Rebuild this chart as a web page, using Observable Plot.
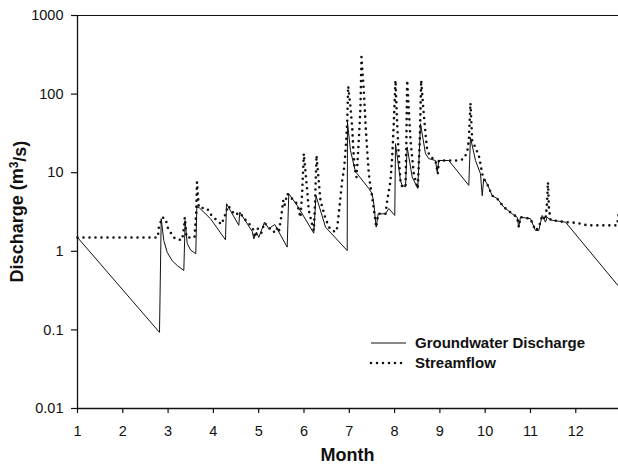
<!DOCTYPE html>
<html><head><meta charset="utf-8">
<script src="https://cdn.jsdelivr.net/npm/d3@7"></script>
<script src="https://cdn.jsdelivr.net/npm/@observablehq/plot@0.6"></script>
<style>
body{margin:0;background:#fff;}
svg{font-family:"Liberation Sans",Arial,sans-serif;}
</style>
</head><body><div id="chart"></div>
<script>
// [month, discharge m3/s]
const groundwater = [[1.00,1.5],[2.81,0.093],[2.848,2.6],[2.905,1.37],[2.98,0.97],[3.09,0.76],[3.201,0.66],[3.347,0.57],[3.377,2.46],[3.422,1.26],[3.494,1.04],[3.611,0.93],[3.634,3.65],[3.687,3.58],[3.936,2.6],[4.267,1.4],[4.289,4.03],[4.561,2.14],[4.583,3.15],[4.857,1.79],[4.892,1.44],[4.951,1.76],[5.002,1.5],[5.128,2.35],[5.223,1.94],[5.355,2.19],[5.629,1.13],[5.664,5.4],[5.85,3.83],[6.216,1.7],[6.265,5.1],[6.475,2.03],[6.954,1.02],[6.96,44],[7.026,19.2],[7.137,10.2],[7.174,9.7],[7.43,6.3],[7.506,5.4],[7.541,4.0],[7.594,2.03],[7.638,3.0],[7.799,3.0],[7.872,3.5],[8.004,2.86],[8.02,23.4],[8.13,7.9],[8.168,6.9],[8.241,6.6],[8.278,21.2],[8.389,8.8],[8.512,6.3],[8.572,42],[8.682,17.5],[8.755,15.1],[8.903,14.3],[8.941,10.2],[8.976,14.3],[9.197,14.3],[9.638,6.9],[9.675,28],[9.786,14.3],[9.896,9.7],[9.934,5.1],[9.969,8.4],[10.044,7.2],[10.155,5.1],[10.265,4.7],[10.411,3.65],[10.596,3.0],[10.706,2.72],[10.742,2.03],[10.779,2.72],[11.0,2.6],[11.11,1.84],[11.183,1.84],[11.258,2.86],[11.331,2.35],[11.369,2.72],[11.442,2.5],[11.773,2.35],[12.943,0.36]];

const streamflow = [[1.0,1.5],[2.773,1.5],[2.795,2.0],[2.87,2.7],[2.943,2.6],[2.993,2.0],[3.053,1.74],[3.126,1.5],[3.201,1.4],[3.311,1.4],[3.351,2.0],[3.369,2.7],[3.406,1.5],[3.583,1.5],[3.62,3.0],[3.638,7.6],[3.678,3.6],[3.863,3.5],[3.951,2.9],[4.068,2.5],[4.179,2.2],[4.267,3.0],[4.327,3.8],[4.472,2.9],[4.583,3.1],[4.709,2.5],[4.819,2.14],[4.892,1.84],[4.914,1.5],[4.98,1.94],[5.055,1.7],[5.128,2.3],[5.245,1.94],[5.333,1.75],[5.393,2.0],[5.444,1.75],[5.497,2.72],[5.541,4.4],[5.57,3.8],[5.629,5.4],[5.85,4.0],[5.923,2.7],[5.96,5.6],[5.996,17.5],[6.071,5.9],[6.106,3.3],[6.181,2.2],[6.216,1.84],[6.243,4.0],[6.276,16.6],[6.364,4.4],[6.475,2.6],[6.57,1.94],[6.695,1.75],[6.733,2.0],[6.768,3.0],[6.806,4.9],[6.843,7.9],[6.879,10.7],[6.901,14.3],[6.932,25.8],[6.954,44],[6.976,126],[7.026,68.6],[7.064,38],[7.086,21.2],[7.115,11.8],[7.159,8.8],[7.174,11.8],[7.21,25.8],[7.247,68.6],[7.269,297],[7.32,112],[7.358,42],[7.395,19.2],[7.43,9.7],[7.468,6.6],[7.506,4.9],[7.594,2.03],[7.638,3.0],[7.799,3.0],[7.837,4.4],[7.91,7.9],[7.947,15.8],[7.982,42],[8.02,150],[8.057,42],[8.093,15.8],[8.13,7.9],[8.168,6.6],[8.241,6.6],[8.26,25],[8.278,150],[8.351,25.8],[8.424,9.7],[8.512,6.3],[8.556,25.8],[8.587,150],[8.631,68.6],[8.682,31.6],[8.72,19.2],[8.792,16],[8.903,14.3],[8.954,9.7],[8.976,14.3],[9.417,14.3],[9.528,15],[9.603,18.3],[9.638,25.8],[9.675,77],[9.713,25.8],[9.859,16.6],[9.896,12.9],[9.934,9.7],[9.969,8.4],[10.044,7.2],[10.155,5.1],[10.265,4.7],[10.411,3.65],[10.596,3.0],[10.706,2.72],[10.742,2.03],[10.779,2.72],[11.0,2.6],[11.11,1.84],[11.183,2.0],[11.258,2.86],[11.331,2.5],[11.364,4.0],[11.386,7.6],[11.408,3.5],[11.442,2.5],[11.773,2.35],[12.031,2.3],[12.252,2.14],[12.914,2.14],[12.943,2.9]];

const xTicks = [1,2,3,4,5,6,7,8,9,10,11,12];
const yTicks = [0.01,0.1,1,10,100,1000];
const yTickLabels = ["0.01","0.1","1","10","100","1000"];
const seriesNames = ["Groundwater Discharge","Streamflow"];
const xTitle = "Month";
const yTitleParts = ["Discharge (m", "3", "/s)"];

const W = 618, H = 468;
const mL = 77, mT = 15, mB = 60, mR = 0;

const plot = Plot.plot({
  width: W, height: H,
  marginLeft: mL, marginTop: mT, marginBottom: mB, marginRight: mR,
  style: {fontFamily: '"Liberation Sans", Arial, sans-serif', fontSize: "14.5px", color: "#111", background: "#fff"},
  x: {domain: [1, 12.943], label: null},
  y: {type: "log", domain: [0.01, 1000], label: null},
  marks: [
    Plot.axisY(yTicks, {tickSize: 6, tickPadding: 8, tickFormat: d => yTickLabels[yTicks.indexOf(d)], label: null, strokeWidth: 1.2}),
    Plot.axisX(xTicks, {tickSize: 5, tickPadding: 12, tickFormat: d => String(d), label: null, strokeWidth: 1.2}),
    Plot.ruleY([1000], {stroke: "#111", strokeWidth: 1.2}),
    Plot.ruleY([0.01], {stroke: "#111", strokeWidth: 1.3}),
    Plot.ruleX([1], {stroke: "#111", strokeWidth: 1.3}),
    Plot.line(streamflow, {x: d => d[0], y: d => d[1], stroke: "#111", strokeWidth: 2.6, strokeDasharray: "0 6", strokeLinecap: "round", strokeLinejoin: "round"}),
    Plot.line(groundwater, {x: d => d[0], y: d => d[1], stroke: "#111", strokeWidth: 1})
  ]
});
document.getElementById("chart").appendChild(plot);

const svg = d3.select(plot);
// axis titles
svg.append("text").attr("x", (mL + W - mR) / 2).attr("y", 455).attr("dy", "0.35em")
  .attr("text-anchor", "middle").attr("font-weight", "bold").attr("font-size", 18).attr("fill", "#111").text(xTitle);
const yt = svg.append("text").attr("transform", `translate(17,${(mT + H - mB) / 2}) rotate(-90)`).attr("dy", "0.35em")
  .attr("text-anchor", "middle").attr("font-weight", "bold").attr("font-size", 18).attr("fill", "#111");
yt.append("tspan").text(yTitleParts[0]);
yt.append("tspan").attr("font-size", 12).attr("dy", "-0.45em").text(yTitleParts[1]);
yt.append("tspan").attr("dy", "0.45em").text(yTitleParts[2]);
// legend
const lg = svg.append("g").attr("text-anchor", "start");
[[343, null], [363, "0 6"]].forEach(([yy, dash], i) => {
  const l = lg.append("line").attr("x1", 371).attr("x2", 406).attr("y1", yy).attr("y2", yy).attr("stroke", "#111");
  if (dash) l.attr("stroke-dasharray", dash).attr("stroke-width", 2.6).attr("stroke-linecap", "round");
  else l.attr("stroke-width", 1);
  lg.append("text").attr("x", 415).attr("y", yy).attr("dy", "0.35em").attr("font-weight", "bold")
    .attr("text-anchor", "start").attr("font-size", 15).attr("fill", "#111").text(seriesNames[i]);
});
</script></body></html>
